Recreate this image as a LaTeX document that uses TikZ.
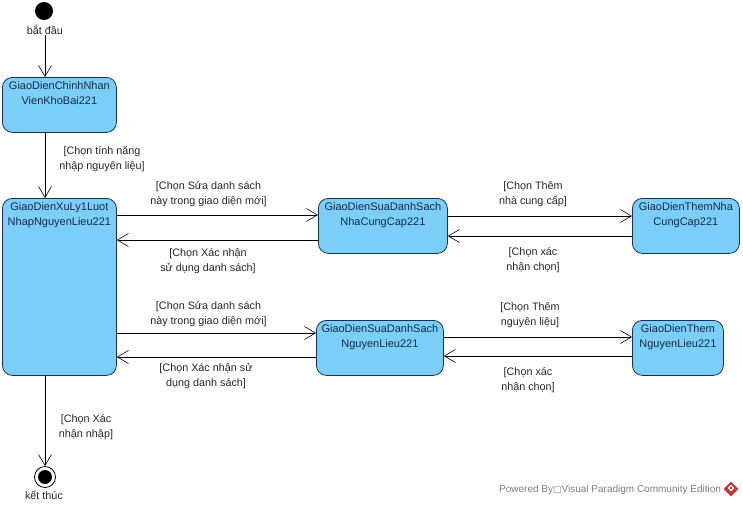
\documentclass[tikz,border=0pt]{standalone}
\usepackage{fontspec}
\setmainfont{Liberation Sans}
\newfontfamily\boxfont{DejaVu Sans}
\usetikzlibrary{arrows.meta,shapes.geometric}
\definecolor{stateblue}{RGB}{122,206,248}
\definecolor{stateline}{RGB}{24,48,80}
\definecolor{footgray}{RGB}{125,125,125}
\definecolor{logored}{RGB}{200,50,50}

\begin{document}
\begin{tikzpicture}[x=1pt,y=-1pt,>={Straight Barb[length=11pt,width=13pt,line width=.6pt]}]
  \tikzstyle{every node}=[font=\fontsize{10.8}{15}\selectfont,inner sep=0pt,align=center,text=black!85]
  \tikzstyle{state}=[draw=stateline,line width=.8pt,fill=stateblue,rounded corners=10pt,
    anchor=north west,text height=27pt,font=\fontsize{11}{15}\selectfont,text=stateline!90!black]
  \tikzstyle{flow}=[->,line width=.8pt,black]
  \useasboundingbox (0,0) rectangle (743,506);
  % start and end
  \node[circle,fill=black,minimum size=18pt] (start) at (44,11) {};
  \node (startlabel) at (45,30) {bắt đầu};
  \node[circle,draw=black,line width=.8pt,minimum size=21pt] (stop) at (45,477) {};
  \node[circle,fill=black,minimum size=14pt] (stopdot) at (45,477) {};
  \node (stoplabel) at (44,495) {kết thúc};
  % states
  \node[state,minimum width=114pt,minimum height=55pt,text depth=28pt] (chinh) at (2,77)
    {GiaoDienChinhNhan\\VienKhoBai221};
  \node[state,minimum width=114pt,minimum height=177pt,text depth=150pt] (xuly) at (2,198)
    {GiaoDienXuLy1Luot\\NhapNguyenLieu221};
  \node[state,minimum width=129pt,minimum height=55pt,text depth=28pt] (suancc) at (318,198)
    {GiaoDienSuaDanhSach\\NhaCungCap221};
  \node[state,minimum width=107pt,minimum height=55pt,text depth=28pt] (themncc) at (632,198)
    {GiaoDienThemNha\\CungCap221};
  \node[state,minimum width=127pt,minimum height=55pt,text depth=28pt] (suanl) at (316,320)
    {GiaoDienSuaDanhSach\\NguyenLieu221};
  \node[state,minimum width=91pt,minimum height=55pt,text depth=28pt] (themnl) at (632,320)
    {GiaoDienThem\\NguyenLieu221};
  % flows
  \draw[flow] (startlabel) -- (chinh.north -| startlabel);
  \draw[flow] (chinh.south -| startlabel) -- (xuly.north -| startlabel);
  \draw[flow] (xuly.south -| startlabel) -- (stop);
  \draw[flow] ([yshift=-17pt]xuly.north east) -- ([yshift=-17pt]suancc.north west);
  \draw[flow] ([yshift=-42pt]suancc.north west) -- ([yshift=-42pt]xuly.north east);
  \draw[flow] ([yshift=-18pt]suancc.north east) -- ([yshift=-18pt]themncc.north west);
  \draw[flow] ([yshift=-38pt]themncc.north west) -- ([yshift=-38pt]suancc.north east);
  \draw[flow] ([yshift=-13pt]suanl.north west -| xuly.east) -- ([yshift=-13pt]suanl.north west);
  \draw[flow] ([yshift=-37pt]suanl.north west) -- ([yshift=-37pt]suanl.north west -| xuly.east);
  \draw[flow] ([yshift=-17pt]suanl.north east) -- ([yshift=-17pt]themnl.north west);
  \draw[flow] ([yshift=-36pt]themnl.north west) -- ([yshift=-36pt]suanl.north east);
  % guards
  \node (g1) at (102,159) {[Chọn tính năng\\nhập nguyên liệu]};
  \node (g2) at (208.5,194) {[Chọn Sửa danh sách\\này trong giao diện mới]};
  \node (g3) at (208,261) {[Chọn Xác nhận\\sử dụng danh sách]};
  \node (g4) at (533,194) {[Chọn Thêm\\nhà cung cấp]};
  \node (g5) at (533,260) {[Chọn xác\\nhận chọn]};
  \node (g6) at (208.5,314) {[Chọn Sửa danh sách\\này trong giao diện mới]};
  \node (g7) at (206,376) {[Chọn Xác nhận sử\\dụng danh sách]};
  \node (g8) at (530,315) {[Chọn Thêm\\nguyên liệu]};
  \node (g9) at (528,380) {[Chọn xác\\nhận chọn]};
  \node (g10) at (86,427) {[Chọn Xác\\nhận nhập]};
  % footer
  \node[anchor=west,text=footgray,font=\fontsize{10}{12}\selectfont] (powered) at (499,490)
    {Powered By{\boxfont\fontsize{9}{9}\selectfont □}Visual Paradigm Community Edition};
  \node[diamond,fill=logored,minimum size=15pt] (logo) at (731,489) {};
  \node[diamond,fill=white,minimum size=7pt] (logoin) at (731,488) {};
  \node[diamond,fill=logored,minimum size=3pt] (logodot) at (731,488) {};
\end{tikzpicture}
\end{document}
